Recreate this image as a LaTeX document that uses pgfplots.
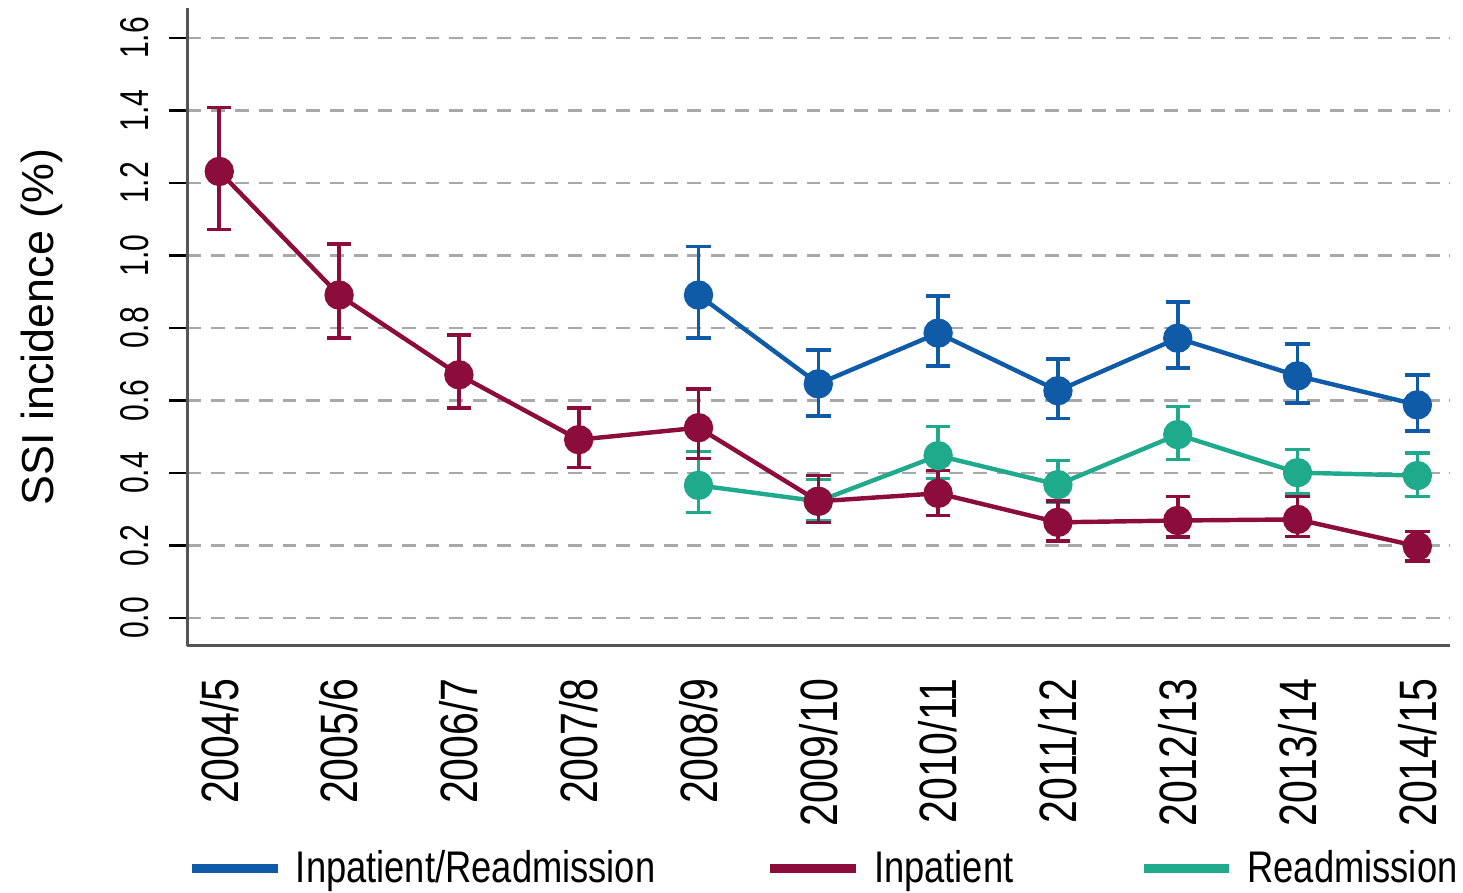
\documentclass[border=0pt]{standalone}
\usepackage{pgfplots}
\pgfplotsset{compat=1.18}
\usepackage{fontspec}
\setmainfont{Liberation Sans}
\newfontfamily\narrowfont[FakeStretch=0.82]{Liberation Sans}
\newfontfamily\xtickfont[FakeStretch=0.78]{Liberation Sans}
\newfontfamily\ytickfont[FakeStretch=0.75]{Liberation Sans}
\definecolor{cblue}{HTML}{0F5BA7}
\definecolor{cred}{HTML}{8C0C3C}
\definecolor{cteal}{HTML}{1FAA8C}
\definecolor{gridgray}{HTML}{A8A8A8}
\definecolor{axisgray}{HTML}{555555}

% x = category index (0 = 2004/5 ... 10 = 2014/15), y, error plus, error minus
\pgfplotstableread{
x y ep em
0 1.232 0.176 0.160
1 0.891 0.140 0.118
2 0.671 0.110 0.091
3 0.492 0.088 0.077
4 0.525 0.107 0.085
5 0.322 0.071 0.058
6 0.344 0.063 0.061
7 0.264 0.058 0.052
8 0.269 0.066 0.046
9 0.272 0.063 0.047
10 0.198 0.041 0.041
}\inpatient

\pgfplotstableread{
x y ep em
4 0.891 0.134 0.118
5 0.646 0.094 0.088
6 0.786 0.102 0.090
7 0.627 0.088 0.077
8 0.772 0.099 0.082
9 0.668 0.088 0.074
10 0.588 0.083 0.072
}\inpread

\pgfplotstableread{
x y ep em
4 0.366 0.093 0.075
5 0.322 0.060 0.055
6 0.448 0.080 0.063
7 0.368 0.066 0.049
8 0.506 0.077 0.069
9 0.401 0.064 0.057
10 0.393 0.063 0.058
}\readm

\begin{document}
\begin{tikzpicture}
\begin{axis}[
  scale only axis,
  width=456.1pt, height=230.4pt,
  xmin=-0.266, xmax=10.275,
  ymin=-0.077, ymax=1.683,
  axis x line*=bottom, axis y line*=left,
  axis line style={axisgray, line width=1.1pt},
  xtick={0,...,10},
  xticklabels={\rotatebox{90}{2004/5},\rotatebox{90}{2005/6},\rotatebox{90}{2006/7},\rotatebox{90}{2007/8},\rotatebox{90}{2008/9},\rotatebox{90}{2009/10},\rotatebox{90}{2010/11},\rotatebox{90}{2011/12},\rotatebox{90}{2012/13},\rotatebox{90}{2013/14},\rotatebox{90}{2014/15}},
  xtick style={draw=none},
  xticklabel style={anchor=north, inner sep=0pt, yshift=-5pt, font=\xtickfont\fontsize{19}{21}\selectfont},
  ytick={0,0.2,...,1.6},
  yticklabels={\rotatebox{90}{0.0},\rotatebox{90}{0.2},\rotatebox{90}{0.4},\rotatebox{90}{0.6},\rotatebox{90}{0.8},\rotatebox{90}{1.0},\rotatebox{90}{1.2},\rotatebox{90}{1.4},\rotatebox{90}{1.6}},
  ytick style={black, line width=1pt},
  tick align=outside,
  major tick length=6.5pt,
  yticklabel style={anchor=east, inner sep=0pt, xshift=-7.2pt, font=\ytickfont\fontsize{14.5}{16}\selectfont},
  ymajorgrids,
  grid style={gridgray, line width=0.8pt, dash pattern=on 5pt off 3.6pt},
  ylabel={SSI incidence (\%)},
  ylabel style={at={(axis description cs:-0.1152,0.5)}, anchor=center, font=\fontsize{16.2}{18}\selectfont},
  legend columns=3,
  legend style={at={(axis description cs:0.0,-0.349)}, anchor=west, draw=none, fill=none,
    inner sep=0pt, font=\narrowfont\fontsize{16}{18}\selectfont,
    /tikz/every even column/.append style={column sep=38pt}},
  legend cell align=left,
  legend image code/.code={\draw[#1] (0pt,0pt) -- (31pt,0pt); \path (34pt,0pt);},
]
\addplot[cteal, line width=1.6pt, mark=*, mark size=4.5pt, forget plot,
  error bars/.cd, y dir=both, y explicit,
  error bar style={line width=1.3pt},
  error mark options={rotate=90, line width=1.3pt, mark size=4.4pt}]
  table[x=x, y=y, y error plus=ep, y error minus=em] {\readm};
\addplot[cred, line width=1.6pt, mark=*, mark size=4.5pt, forget plot,
  error bars/.cd, y dir=both, y explicit,
  error bar style={line width=1.3pt},
  error mark options={rotate=90, line width=1.3pt, mark size=4.4pt}]
  table[x=x, y=y, y error plus=ep, y error minus=em] {\inpatient};
\addplot[cblue, line width=1.6pt, mark=*, mark size=4.5pt, forget plot,
  error bars/.cd, y dir=both, y explicit,
  error bar style={line width=1.3pt},
  error mark options={rotate=90, line width=1.3pt, mark size=4.4pt}]
  table[x=x, y=y, y error plus=ep, y error minus=em] {\inpread};
\addlegendimage{cblue, line width=3pt}
\addlegendentry{Inpatient/Readmission}
\addlegendimage{cred, line width=3pt}
\addlegendentry{Inpatient\kern5.5pt}
\addlegendimage{cteal, line width=3pt}
\addlegendentry{Readmission}
\end{axis}
\path (current axis.south west) ++(-67.68pt,-86.76pt) coordinate (bbA);
\path (current axis.south west) ++(459pt,233.28pt) coordinate (bbB);
\path (bbA) rectangle (bbB);
\end{tikzpicture}
\end{document}
